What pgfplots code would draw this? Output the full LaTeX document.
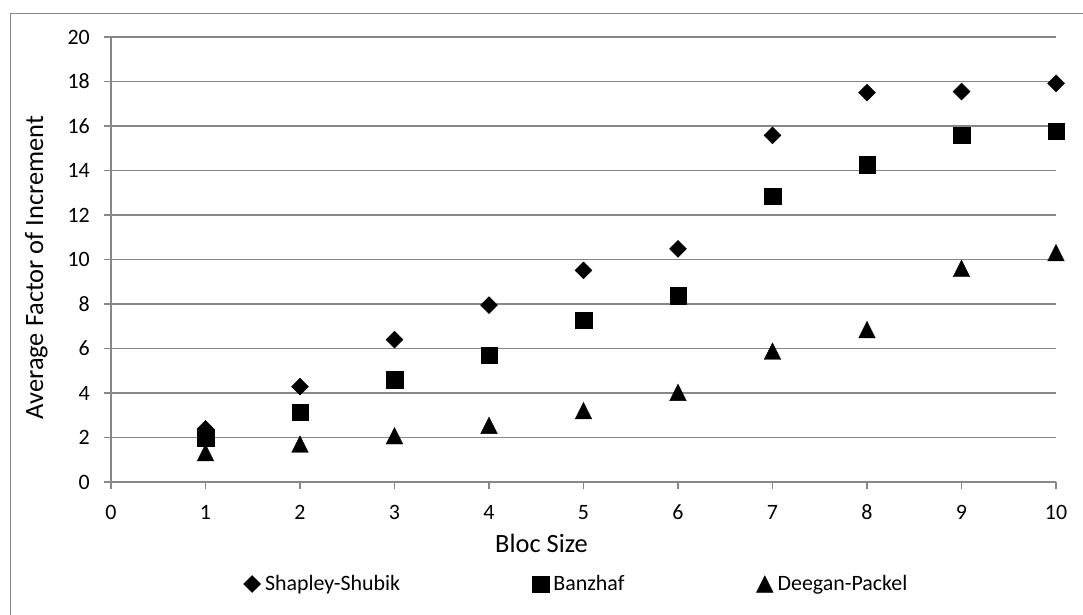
\documentclass[border=0pt]{standalone}
\usepackage{fontspec}
\setmainfont{Carlito}
\usepackage{pgfplots}
\pgfplotsset{compat=1.18}
\definecolor{gridgray}{HTML}{878787}
\begin{document}
\begin{tikzpicture}
\useasboundingbox (0,0) rectangle (1083bp,615bp);
\draw[gridgray, line width=1.2bp] (10.5bp,0bp) -- (10.5bp,601.5bp) -- (1083bp,601.5bp);
\begin{axis}[
  at={(111bp,133bp)}, anchor=south west,
  scale only axis, width=945bp, height=445bp,
  xmin=0, xmax=10, ymin=0, ymax=20,
  xtick={0,1,...,10}, ytick={0,2,...,20},
  axis x line*=bottom, axis y line*=left,
  axis line style={gridgray, line width=1.2bp},
  ymajorgrids, grid style={gridgray, line width=1.2bp},
  tick style={gridgray, line width=1.2bp},
  major tick length=7bp, tick align=outside,
  /pgf/number format/assume math mode=true,
  ticklabel style={font=\fontsize{22}{26}\selectfont, text=black},
  xticklabel style={anchor=base, yshift=-30bp},
  yticklabel style={anchor=east, inner sep=0pt, xshift=-14bp},
  xlabel={Bloc Size}, ylabel={Average Factor of Increment},
  label style={font=\fontsize{26.5}{30}\selectfont},
  xlabel style={at={([xshift=-42bp,yshift=-70bp]axis description cs:0.5,0)}, anchor=base},
  ylabel style={at={([xshift=-68bp,yshift=-8bp]axis description cs:0,0.5)}, anchor=base},
  legend columns=3,
  legend style={at={([xshift=-7bp,yshift=-102bp]axis description cs:0.5,0)}, anchor=center, draw=none, fill=none,
    font=\fontsize{22}{26}\selectfont,
    nodes={inner xsep=2bp},
    /tikz/every odd column/.append style={column sep=2.5bp},
    /tikz/every even column/.append style={column sep=130bp}},
  legend image code/.code={\draw[#1] plot coordinates {(0bp,0bp)};},
]
\addplot[only marks, mark=square*, mark size=6bp, mark options={rotate=45, fill=black, draw=black}] coordinates {
(1,2.39) (2,4.29) (3,6.40) (4,7.95) (5,9.51) (6,10.48) (7,15.58) (8,17.50) (9,17.55) (10,17.92)};
\addlegendentry{Shapley-Shubik}
\addplot[only marks, mark=square*, mark size=8.3bp, mark options={fill=black, draw=black}] coordinates {
(1,2.00) (2,3.13) (3,4.60) (4,5.69) (5,7.27) (6,8.36) (7,12.85) (8,14.25) (9,15.58) (10,15.77)};
\addlegendentry{Banzhaf}
\addplot[only marks, mark=triangle*, mark size=9.6bp, mark options={yshift=-2.8bp, yscale=1.15, fill=black, draw=black}] coordinates {
(1,1.32) (2,1.70) (3,2.08) (4,2.55) (5,3.21) (6,4.03) (7,5.88) (8,6.85) (9,9.60) (10,10.31)};
\addlegendentry{Deegan-Packel}
\end{axis}
\end{tikzpicture}
\end{document}
